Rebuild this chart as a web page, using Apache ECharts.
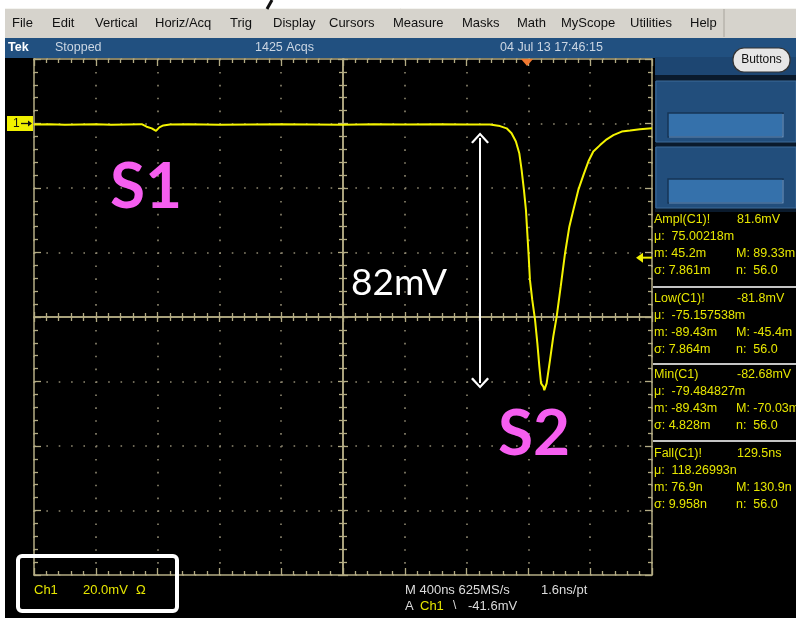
<!DOCTYPE html>
<html>
<head>
<meta charset="utf-8">
<script src="https://cdn.jsdelivr.net/npm/echarts@6/dist/echarts.min.js"></script>
<style>
  html, body { margin: 0; padding: 0; background: #ffffff; }
  #chart { width: 796px; height: 623px; }
</style>
</head>
<body>
<div id="chart"></div>
<script>
// ---- Channel 1 record: time from start of record (ns) and voltage (mV) ----
const timeNs = [
  0, 100, 200, 300, 400, 500, 600, 697, 729, 762, 790, 811, 837, 880,
  1000, 1200, 1400, 1600, 1800, 2000, 2200, 2400, 2628, 2800, 2951,
  3016, 3059, 3091, 3119, 3141, 3156, 3171, 3184, 3193, 3202, 3210,
  3225, 3243, 3258, 3271, 3282, 3297, 3303, 3318, 3340, 3361, 3383,
  3409, 3437, 3465, 3491, 3523, 3556, 3588, 3620, 3664, 3707, 3750,
  3804, 3858, 3922, 4000
];
const voltageMv = [
  -0.3, -0.2, -0.4, -0.3, -0.2, -0.4, -0.3, -0.2, -1.0, -1.5, -2.3, -1.2, -0.6, -0.3,
  -0.2, -0.4, -0.3, -0.2, -0.3, -0.4, -0.2, -0.3, -0.2, -0.3, -0.3,
  -0.8, -1.5, -3.0, -5.6, -9.2, -14.4, -20.6, -26.8, -34.0, -41.3, -48.5,
  -54.7, -60.9, -68.2, -75.4, -80.6, -81.6, -82.68, -80.6, -73.3, -66.1, -59.9,
  -50.6, -40.3, -32.0, -26.8, -20.6, -16.0, -11.8, -8.7, -6.7, -4.9, -3.6,
  -2.5, -2.2, -1.8, -1.5
];

// Graticule: 10 horizontal divisions of 400 ns, 8 vertical divisions of 20 mV
const timeDivisions = [0, 400, 800, 1200, 1600, 2000, 2400, 2800, 3200, 3600, 4000];
const voltDivisions = [20, 0, -20, -40, -60, -80, -100, -120, -140];

// Annotation: pulse amplitude arrow and trigger
const amplitudeArrowTime = 2887;
const amplitudeArrowFrom = -4.5;
const amplitudeArrowTo = -80.5;
const amplitudeText = '82mV';
const triggerTimeNs = 3191;
const triggerLevelMv = -41.6;

// Menu bar and status bar
const menuItems = ['File', 'Edit', 'Vertical', 'Horiz/Acq', 'Trig', 'Display', 'Cursors',
  'Measure', 'Masks', 'Math', 'MyScope', 'Utilities', 'Help'];
const menuX = [12, 52, 95, 155, 230, 273, 329, 393, 462, 517, 561, 630, 690];
const statusTexts = ['Tek', 'Stopped', '1425 Acqs', '04 Jul 13 17:46:15'];

// Measurement readouts
const measureNames = ['Ampl(C1)!', 'Low(C1)!', 'Min(C1)', 'Fall(C1)!'];
const measureValues = ['81.6mV', '-81.8mV', '-82.68mV', '129.5ns'];
const measureMean = ['75.00218m', '-75.157538m', '-79.484827m', '118.26993n'];
const measureLow = ['45.2m', '-89.43m', '-89.43m', '76.9n'];
const measureHigh = ['89.33m', '-45.4m', '-70.03m', '130.9n'];
const measureSigma = ['7.861m', '7.864m', '4.828m', '9.958n'];
const measureCount = ['56.0', '56.0', '56.0', '56.0'];

// Readout texts at the bottom
const channelScale = ['Ch1', '20.0mV', 'Ω'];
const timebaseLine = ['M 400ns 625MS/s', '1.6ns/pt'];
const triggerLine = ['A', 'Ch1', '\\', '-41.6mV'];

// ---- styles ----
const TAN = '#b4ac84';
const DOT = '#8e8870';
const TRACE = '#f4f400';
const READOUT = '#e6e600';
const PINK = '#f65ef0';
const UI_FONT = '"Liberation Sans", Arial, sans-serif';

const G = { left: 34, top: 59, width: 618, height: 516 };

const chart = echarts.init(document.getElementById('chart'));

const tracePoints = timeNs.map((t, i) => [t, voltageMv[i]]);

function tickStyle(inside, len, minorLen) {
  return {
    axisTick: { show: true, inside: inside, length: len, lineStyle: { color: TAN, width: 1.3 } },
    minorTick: { show: true, splitNumber: 5, length: minorLen, lineStyle: { color: TAN, width: 1.3 } }
  };
}

function borderAxis(extra) {
  return Object.assign({
    type: 'value',
    axisLine: { show: true, onZero: false, lineStyle: { color: TAN, width: 1.5 } },
    axisLabel: { show: false },
    splitLine: { show: false }
  }, tickStyle(true, 7, 4), extra);
}

const xRange = { min: timeDivisions[0], max: timeDivisions[timeDivisions.length - 1], interval: timeDivisions[1] - timeDivisions[0] };
const yRange = { min: voltDivisions[voltDivisions.length - 1], max: voltDivisions[0], interval: voltDivisions[0] - voltDivisions[1] };

const xAxes = [
  borderAxis(Object.assign({ position: 'bottom',
    splitLine: { show: true, lineStyle: { color: DOT, width: 1.6, type: [1.6, 11.3] } } }, xRange)),
  borderAxis(Object.assign({ position: 'top' }, xRange)),
  borderAxis(Object.assign({ position: 'bottom', offset: -G.height / 2 }, tickStyle(true, 5, 4), xRange)),
  borderAxis(Object.assign({ position: 'bottom', offset: -G.height / 2 }, tickStyle(false, 5, 4), xRange))
];
const yAxes = [
  borderAxis(Object.assign({ position: 'left',
    splitLine: { show: true, lineStyle: { color: DOT, width: 1.6, type: [1.6, 10.76] } } }, yRange)),
  borderAxis(Object.assign({ position: 'right' }, yRange)),
  borderAxis(Object.assign({ position: 'left', offset: -G.width / 2 }, tickStyle(true, 5, 4), yRange)),
  borderAxis(Object.assign({ position: 'left', offset: -G.width / 2 }, tickStyle(false, 5, 4), yRange))
];

// convert data coordinates to pixels for overlay decorations
function px(t) { return G.left + (t - xRange.min) / (xRange.max - xRange.min) * G.width; }
function py(v) { return G.top + (yRange.max - v) / (yRange.max - yRange.min) * G.height; }

const graphics = [];
// page backgrounds
graphics.push({ type: 'rect', z: -20, shape: { x: 5, y: 57, width: 791, height: 561 }, style: { fill: '#000000' } });
graphics.push({ type: 'rect', z: -20, shape: { x: 5, y: 8, width: 791, height: 30 }, style: { fill: '#d6d3cc' } });
graphics.push({ type: 'line', z: -19, shape: { x1: 5, y1: 8.5, x2: 796, y2: 8.5 }, style: { stroke: '#f4f4f0', lineWidth: 1 } });
graphics.push({ type: 'rect', z: -20, shape: { x: 5, y: 38, width: 791, height: 20 }, style: { fill: '#215080' } });
graphics.push({ type: 'line', z: -19, shape: { x1: 272, y1: 0, x2: 267, y2: 9 }, style: { stroke: '#111', lineWidth: 3 } });

// menu bar
menuItems.forEach((m, i) => {
  graphics.push({ type: 'text', z: 10, x: menuX[i], y: 23,
    style: { text: m, fill: '#111', fontSize: 13, fontFamily: UI_FONT, verticalAlign: 'middle' } });
});
graphics.push({ type: 'line', z: -19, shape: { x1: 724, y1: 9, x2: 724, y2: 37 }, style: { stroke: '#a8a49c', lineWidth: 1 } });

// status bar
graphics.push({ type: 'text', z: 10, x: 8, y: 48, style: { text: statusTexts[0], fill: '#ffffff', fontSize: 12.5, fontWeight: 'bold', fontFamily: UI_FONT, verticalAlign: 'middle' } });
graphics.push({ type: 'text', z: 10, x: 55, y: 48, style: { text: statusTexts[1], fill: '#cbd6e2', fontSize: 12.5, fontFamily: UI_FONT, verticalAlign: 'middle' } });
graphics.push({ type: 'text', z: 10, x: 255, y: 48, style: { text: statusTexts[2], fill: '#cbd6e2', fontSize: 12.5, fontFamily: UI_FONT, verticalAlign: 'middle' } });
graphics.push({ type: 'text', z: 10, x: 500, y: 48, style: { text: statusTexts[3], fill: '#cbd6e2', fontSize: 12.5, fontFamily: UI_FONT, verticalAlign: 'middle' } });

// right-hand control panel
graphics.push({ type: 'rect', z: -18, shape: { x: 655, y: 57, width: 141, height: 155 }, style: { fill: '#1d4672' } });
graphics.push({ type: 'rect', z: -17, shape: { x: 655, y: 75, width: 141, height: 6 }, style: { fill: '#0a1a2c' } });
graphics.push({ type: 'rect', z: -17, shape: { x: 655, y: 142, width: 141, height: 5 }, style: { fill: '#0a1a2c' } });
graphics.push({ type: 'rect', z: -17, shape: { x: 655, y: 208, width: 141, height: 4 }, style: { fill: '#0a1a2c' } });
[81, 147].forEach(y0 => {
  graphics.push({ type: 'rect', z: -16, shape: { x: 656, y: y0, width: 140, height: 61 }, style: { fill: '#224e7c', stroke: '#3d6a98', lineWidth: 1 } });
  graphics.push({ type: 'rect', z: -15, shape: { x: 668, y: y0 + 32, width: 115, height: 24 }, style: { fill: '#3571ab', stroke: '#163556', lineWidth: 1.5 } });
  graphics.push({ type: 'polyline', z: -14, shape: { points: [[669, y0 + 56], [783, y0 + 56], [783, y0 + 33]] }, style: { stroke: '#6d9acb', lineWidth: 1.2, fill: null } });
});
graphics.push({ type: 'rect', z: 5, shape: { x: 733, y: 48, width: 57, height: 24, r: 11 }, style: { fill: '#e6e6e6', stroke: '#333', lineWidth: 1.2 } });
graphics.push({ type: 'text', z: 6, x: 761.5, y: 60, style: { text: 'Buttons', fill: '#111', fontSize: 12, fontFamily: UI_FONT, align: 'center', verticalAlign: 'middle' } });

// measurement readouts
const blockTop = [220, 299, 375, 454];
const lineGap = 16.7;
const readoutStyle = (t, extra) => Object.assign({ text: t, fill: READOUT, fontSize: 12.5, fontFamily: UI_FONT, verticalAlign: 'middle' }, extra || {});
measureNames.forEach((name, i) => {
  const y0 = blockTop[i];
  graphics.push({ type: 'text', z: 10, x: 654, y: y0, style: readoutStyle(name) });
  graphics.push({ type: 'text', z: 10, x: 737, y: y0, style: readoutStyle(measureValues[i]) });
  graphics.push({ type: 'text', z: 10, x: 654, y: y0 + lineGap, style: readoutStyle('μ:  ' + measureMean[i]) });
  graphics.push({ type: 'text', z: 10, x: 654, y: y0 + 2 * lineGap, style: readoutStyle('m: ' + measureLow[i]) });
  graphics.push({ type: 'text', z: 10, x: 736, y: y0 + 2 * lineGap, style: readoutStyle('M: ' + measureHigh[i]) });
  graphics.push({ type: 'text', z: 10, x: 654, y: y0 + 3 * lineGap, style: readoutStyle('σ: ' + measureSigma[i]) });
  graphics.push({ type: 'text', z: 10, x: 736, y: y0 + 3 * lineGap, style: readoutStyle('n:  ' + measureCount[i]) });
});
[287, 364, 441].forEach(y => {
  graphics.push({ type: 'line', z: 10, shape: { x1: 653, y1: y, x2: 796, y2: y }, style: { stroke: '#c4c4c4', lineWidth: 2 } });
});

// channel marker, trigger position and trigger level markers
graphics.push({ type: 'rect', z: 12, shape: { x: 7, y: py(0) - 7.5, width: 26, height: 15 }, style: { fill: '#f0f000' } });
graphics.push({ type: 'text', z: 13, x: 13, y: py(0), style: { text: '1', fill: '#111', fontSize: 12, fontFamily: UI_FONT, verticalAlign: 'middle' } });
graphics.push({ type: 'line', z: 13, shape: { x1: 21, y1: py(0), x2: 31, y2: py(0) }, style: { stroke: '#111', lineWidth: 1.3 } });
graphics.push({ type: 'polygon', z: 13, shape: { points: [[32, py(0)], [28, py(0) - 3], [28, py(0) + 3]] }, style: { fill: '#111' } });
graphics.push({ type: 'polygon', z: 12, shape: { points: [[px(triggerTimeNs) - 6, G.top], [px(triggerTimeNs) + 6, G.top], [px(triggerTimeNs), G.top + 7]] }, style: { fill: '#f07830' } });
graphics.push({ type: 'line', z: 12, shape: { x1: 641, y1: py(triggerLevelMv), x2: 652, y2: py(triggerLevelMv) }, style: { stroke: '#f0f000', lineWidth: 2 } });
graphics.push({ type: 'polygon', z: 12, shape: { points: [[636, py(triggerLevelMv)], [643, py(triggerLevelMv) - 5], [643, py(triggerLevelMv) + 5]] }, style: { fill: '#f0f000' } });

// pulse labels
graphics.push({ type: 'text', z: 20, x: 110, y: 187, style: { text: 'S1', fill: PINK, fontSize: 64, fontWeight: 'bold', fontFamily: 'Lato, "Open Sans", sans-serif', verticalAlign: 'middle' } });
graphics.push({ type: 'text', z: 20, x: 498, y: 434, style: { text: 'S2', fill: PINK, fontSize: 64, fontWeight: 'bold', fontFamily: 'Lato, "Open Sans", sans-serif', verticalAlign: 'middle' } });
graphics.push({ type: 'text', z: 20, x: 351, y: 283, style: { text: amplitudeText, fill: '#ffffff', fontSize: 37, fontFamily: 'Lato, "Open Sans", sans-serif', verticalAlign: 'middle' } });

// bottom readouts
graphics.push({ type: 'text', z: 10, x: 34, y: 590, style: readoutStyle(channelScale[0], { fontSize: 13 }) });
graphics.push({ type: 'text', z: 10, x: 83, y: 590, style: readoutStyle(channelScale[1], { fontSize: 13 }) });
graphics.push({ type: 'text', z: 10, x: 136, y: 590, style: readoutStyle(channelScale[2], { fontSize: 13 }) });
graphics.push({ type: 'rect', z: 11, shape: { x: 18, y: 556, width: 159, height: 55, r: 4 }, style: { fill: null, stroke: '#ffffff', lineWidth: 4 } });
graphics.push({ type: 'text', z: 10, x: 405, y: 590, style: { text: timebaseLine[0], fill: '#dcdcdc', fontSize: 13, fontFamily: UI_FONT, verticalAlign: 'middle' } });
graphics.push({ type: 'text', z: 10, x: 541, y: 590, style: { text: timebaseLine[1], fill: '#dcdcdc', fontSize: 13, fontFamily: UI_FONT, verticalAlign: 'middle' } });
graphics.push({ type: 'text', z: 10, x: 405, y: 606, style: { text: triggerLine[0], fill: '#dcdcdc', fontSize: 13, fontFamily: UI_FONT, verticalAlign: 'middle' } });
graphics.push({ type: 'text', z: 10, x: 420, y: 606, style: readoutStyle(triggerLine[1], { fontSize: 13 }) });
graphics.push({ type: 'text', z: 10, x: 453, y: 606, style: { text: triggerLine[2], fill: '#dcdcdc', fontSize: 12, fontFamily: UI_FONT, verticalAlign: 'middle' } });
graphics.push({ type: 'text', z: 10, x: 468, y: 606, style: { text: triggerLine[3], fill: '#dcdcdc', fontSize: 13, fontFamily: UI_FONT, verticalAlign: 'middle' } });

const chevron = 'path://M0,11 L10,0 L20,11 L18,12.5 L10,3.5 L2,12.5 Z';

chart.setOption({
  animation: false,
  backgroundColor: 'transparent',
  grid: { left: G.left, top: G.top, width: G.width, height: G.height, containLabel: false },
  xAxis: xAxes,
  yAxis: yAxes,
  graphic: { elements: graphics },
  series: [{
    type: 'line',
    name: 'Ch1',
    data: tracePoints,
    xAxisIndex: 0,
    yAxisIndex: 0,
    showSymbol: false,
    clip: true,
    z: 8,
    lineStyle: { color: TRACE, width: 2 },
    markLine: {
      silent: true,
      symbol: [chevron, chevron],
      symbolSize: [18, 11],
      label: { show: false },
      lineStyle: { color: '#ffffff', width: 2, type: 'solid' },
      data: [[{ coord: [amplitudeArrowTime, amplitudeArrowFrom] }, { coord: [amplitudeArrowTime, amplitudeArrowTo] }]]
    }
  }]
});
</script>
</body>
</html>
